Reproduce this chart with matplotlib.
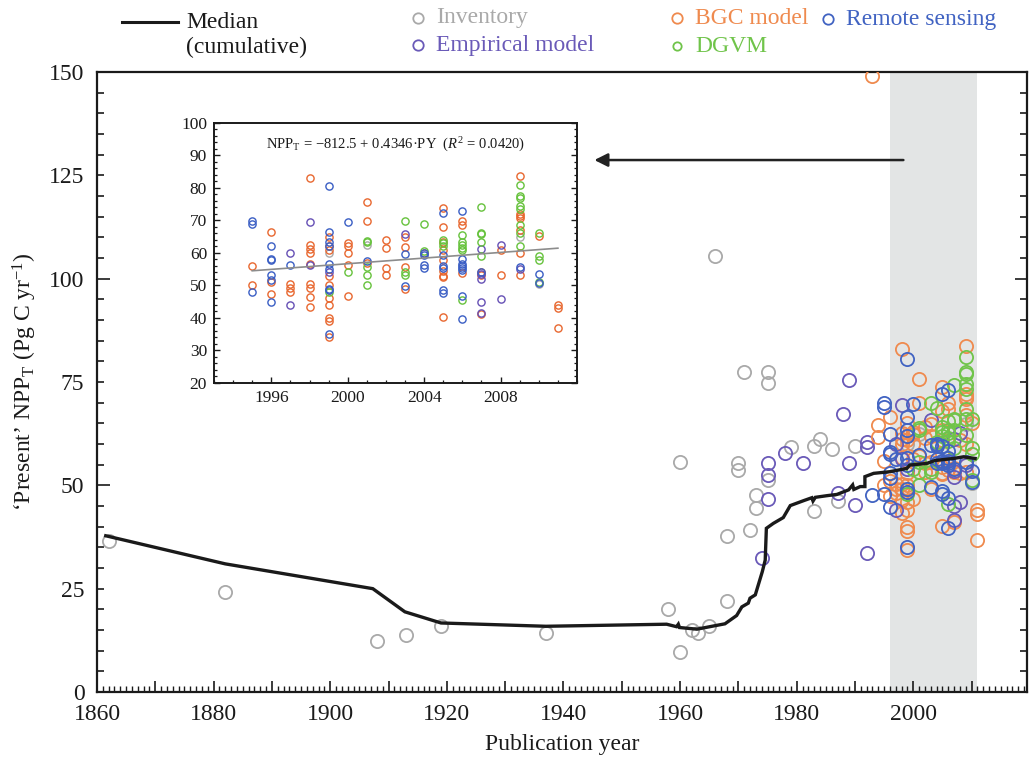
import matplotlib
matplotlib.use("Agg")
import matplotlib.pyplot as plt
from matplotlib.ticker import MultipleLocator, FuncFormatter, FixedLocator
from matplotlib.lines import Line2D
import numpy as np

plt.rcParams['font.family'] = ['Liberation Serif', 'DejaVu Serif']
plt.rcParams['mathtext.fontset'] = 'custom'
plt.rcParams['mathtext.rm'] = 'Liberation Serif'
plt.rcParams['mathtext.it'] = 'Liberation Serif:italic'
plt.rcParams['mathtext.bf'] = 'Liberation Serif:bold'

# ---------------- data (1995-2011, shown in inset and main panel) ----------------
bgc_years = [1995, 1995,
             1996, 1996, 1996,
             1997, 1997, 1997,
             1998, 1998, 1998, 1998, 1998, 1998, 1998, 1998, 1998,
             1999, 1999, 1999, 1999, 1999, 1999, 1999, 1999, 1999, 1999,
             2000, 2000, 2000, 2000, 2000,
             2001, 2001, 2001,
             2002, 2002, 2002, 2002,
             2003, 2003, 2003, 2003,
             2004,
             2005, 2005, 2005, 2005, 2005, 2005, 2005, 2005, 2005,
             2006, 2006, 2006,
             2007, 2007, 2007,
             2008, 2008,
             2009, 2009, 2009, 2009, 2009, 2009, 2009,
             2010,
             2011, 2011, 2011]
bgc_vals = [56, 50,
            66.5, 51, 47.4,
            50.4, 49.2, 48.1,
            83, 62.6, 61.2, 60, 56.6, 50.4, 49.2, 46.4, 43.3,
            65, 62, 61, 53, 50, 46, 44, 40, 39, 34.3,
            63, 62.3, 60, 56.3, 46.8,
            75.8, 69.8, 57,
            64.1, 61.5, 55.4, 53.3,
            64.9, 61.9, 55.6, 49,
            60,
            73.7, 68, 63.5, 61, 57.9, 54.5, 53, 52.7, 40.2,
            69.8, 68.5, 53.8,
            54.3, 53.2, 41.1,
            61, 53.1,
            83.7, 72.1, 71.3, 70.8, 67, 60, 53.2,
            65.2,
            44, 43, 36.8]

emp_years = [1997, 1997, 1998, 1998, 1999, 2003,
             2007, 2007, 2007, 2007, 2007, 2008, 2008, 2009]
emp_vals = [60, 44, 69.4, 56.3, 54, 65.7,
            61.2, 53.5, 52, 45, 41.5, 62.6, 45.9, 55]

dgvm_years = [1999, 2000,
              2001, 2001, 2001, 2001, 2001,
              2003, 2003, 2003,
              2004, 2004,
              2005, 2005, 2005,
              2006, 2006, 2006, 2006, 2006, 2006,
              2007, 2007, 2007, 2007, 2007,
              2009, 2009, 2009, 2009, 2009, 2009, 2009, 2009,
              2010, 2010, 2010, 2010]
dgvm_vals = [48, 54,
             63.8, 63.3, 55.6, 53.3, 50.2,
             69.8, 54, 53.3,
             68.8, 60.5,
             64.1, 63, 62,
             65.5, 63.3, 62.6, 61.5, 60.8, 45.6,
             74.2, 66, 65.8, 63.4, 59,
             81, 77.5, 76.9, 74.4, 73.4, 68.5, 66, 62.1,
             66, 59, 57.7, 51.2]

rs_years = [1995, 1995, 1995,
            1996, 1996, 1996, 1996, 1996, 1996,
            1997,
            1999, 1999, 1999, 1999, 1999, 1999, 1999, 1999, 1999,
            2000, 2001,
            2003, 2003,
            2004, 2004, 2004, 2004,
            2005, 2005, 2005, 2005, 2005, 2005,
            2006, 2006, 2006, 2006, 2006, 2006, 2006, 2006,
            2007, 2009, 2010, 2010]
rs_vals = [69.8, 69, 48,
           62.3, 58.1, 57.7, 53.1, 51.8, 44.8,
           56.3,
           80.5, 66.5, 63.5, 62, 56.5, 55, 49, 48.5, 35,
           69.6, 57.4,
           59.7, 49.7,
           60, 59.5, 56.4, 55.4,
           72.2, 59.5, 55.9, 55.5, 48.7, 47.8,
           73, 58.2, 56.6, 56, 55.5, 54.8, 46.9, 39.6,
           54, 55.7, 53.5, 50.8]

inv_years = [1999, 2001, 2009, 2010]
inv_vals = [60, 62.5, 64.8, 50.5]

# ---------------- earlier publications (main panel only) ----------------
inv_early_years = [1862, 1882, 1908, 1913, 1919, 1937, 1958, 1960, 1960, 1962, 1963,
                   1965, 1966, 1968, 1968, 1970, 1970, 1971, 1972, 1973, 1973,
                   1975, 1975, 1975, 1979, 1983, 1983, 1984, 1986, 1987, 1990]
inv_early_vals = [36.5, 24.2, 12.3, 13.7, 16, 14.3, 20.2, 55.6, 9.6, 15, 14.2,
                  16, 105.5, 37.7, 22, 55.5, 53.7, 77.3, 39.3, 47.7, 44.6,
                  77.3, 74.8, 51.3, 59.2, 59.5, 43.9, 61.3, 58.9, 46.2, 59.5]

emp_early_years = [1974, 1975, 1975, 1975, 1978, 1981, 1987, 1988, 1989, 1989,
                   1990, 1992, 1992, 1992]
emp_early_vals = [32.3, 55.3, 52.6, 46.7, 57.9, 55.3, 48.1, 67.2, 75.5, 55.3,
                  45.2, 60.6, 59.3, 33.6]

bgc_early_years = [1993, 1994, 1994]
bgc_early_vals = [149, 64.5, 61.8]

rs_early_years = [1993]
rs_early_vals = [47.7]

# ---------------- cumulative median ----------------
med_years = [1861.5, 1882, 1907.3, 1912.8, 1919, 1937, 1957.7, 1959.4, 1959.7, 1959.9,
             1962.9, 1965.1, 1967.7, 1969.7, 1970.6, 1971.7, 1972.0, 1972.9, 1974.1,
             1974.6, 1974.8, 1976.0, 1977.7, 1978.9, 1981.2, 1982.6, 1982.8, 1983.2,
             1985.2, 1986.9, 1988.9, 1989.6, 1989.8, 1990.9, 1991.7, 1991.7, 1993.2,
             1996, 1998.9, 1999.4, 2002.3, 2003.7, 2006.9, 2008.6, 2010.6]
med_vals = [37.8, 31, 25, 19.4, 16.7, 15.9, 16.4, 15.8, 16.4, 15.6,
            15.2, 15.8, 16.5, 18.5, 20.6, 21.5, 22.7, 23.5, 29.1,
            31.9, 39.6, 40.8, 42.2, 45.1, 46.3, 47.0, 46.2, 47.1,
            47.5, 47.8, 48.9, 50.1, 49.0, 49.7, 49.7, 52.1, 52.9,
            53.3, 54.1, 54.9, 55.3, 56.0, 56.5, 56.9, 56.5]

fit_intercept = -812.5
fit_slope = 0.4346
fit_years = [1995, 2011]

inset_xticks = [1996, 2000, 2004, 2008]

# ---------------- styling ----------------
C_INV = '#a9a9a9'
C_EMP = '#6a5ab8'
C_BGC = '#ef8a4e'
C_DGVM = '#70c44a'
C_RS = '#4163c2'
CI_BGC = '#e8672f'
CI_DGVM = '#66c23c'
CI_RS = '#3a5ec4'
CI_EMP = '#6650b5'
C_SHADE = '#e3e5e5'

W, H = 1029, 758
fig = plt.figure(figsize=(W / 100, H / 100), dpi=100)

ax = fig.add_axes([97 / W, 1 - 692 / H, 930 / W, 620 / H])
ax.set_xlim(1860, 2019.5)
ax.set_ylim(0, 150)
ax.axvspan(1996, 2011, color=C_SHADE, zorder=0, lw=0)

mk = dict(ls='none', marker='o', mfc='none', ms=9.5, mew=1.3)
ax.plot(inv_early_years, inv_early_vals, mec=C_INV, zorder=2, **mk)
ax.plot(inv_years, inv_vals, mec=C_INV, zorder=2, **mk)
ax.plot(emp_early_years, emp_early_vals, mec=C_EMP, zorder=3, **mk)
ax.plot(bgc_early_years, bgc_early_vals, mec=C_BGC, zorder=3, **mk)
ax.plot(bgc_years, bgc_vals, mec=C_BGC, zorder=3, **mk)
ax.plot(emp_years, emp_vals, mec=C_EMP, zorder=3, **mk)
ax.plot(dgvm_years, dgvm_vals, mec=C_DGVM, zorder=4, **mk)
ax.plot(rs_early_years, rs_early_vals, mec=C_RS, zorder=4, **mk)
ax.plot(rs_years, rs_vals, mec=C_RS, zorder=4, **mk)
ax.plot(med_years, med_vals, color='#1a1a1a', lw=2.4, zorder=6, solid_joinstyle='miter')

ax.annotate("", xy=(1945.3, 128.7), xytext=(1998.3, 128.7),
            arrowprops=dict(arrowstyle='-|>', color='#222222', lw=1.8,
                            mutation_scale=20, shrinkA=0, shrinkB=0),
            zorder=7)

ax.xaxis.set_major_locator(MultipleLocator(10))
ax.xaxis.set_minor_locator(MultipleLocator(1))
ax.xaxis.set_major_formatter(FuncFormatter(lambda v, p: f"{int(round(v))}" if round(v) % 20 == 0 else ""))
ax.yaxis.set_major_locator(MultipleLocator(50))
ax.yaxis.set_minor_locator(MultipleLocator(5))
ax.yaxis.set_major_formatter(FuncFormatter(lambda v, p: f"{int(round(v))}"))
ax.yaxis.set_minor_formatter(FuncFormatter(lambda v, p: f"{int(round(v))}" if round(v) % 25 == 0 else ""))
ax.tick_params(axis='both', which='both', direction='in', colors='#1a1a1a',
               labelsize=17, labelcolor='#1a1a1a')
ax.tick_params(axis='x', which='major', length=8, width=1.2, pad=9)
ax.tick_params(axis='x', which='minor', length=4, width=1.0)
ax.tick_params(axis='y', which='major', length=9, width=1.2, pad=9, right=True)
ax.tick_params(axis='y', which='minor', length=5, width=1.2, pad=9, right=True)
for s in ax.spines.values():
    s.set_linewidth(1.6)
    s.set_color('#1a1a1a')

ax.set_xlabel("Publication year", fontsize=17, color='#1a1a1a')
ax.xaxis.set_label_coords(0.5, -0.068)
ax.set_ylabel(r"‘Present’ NPP$_\mathrm{T}$ (Pg C yr$^{-1}$)", fontsize=17, color='#1a1a1a')
ax.yaxis.set_label_coords(-0.062, 0.5)

# ---------------- inset ----------------
axi = fig.add_axes([214 / W, 1 - 383 / H, 363 / W, 260 / H])
axi.set_xlim(1993, 2012)
axi.set_ylim(20, 100)
mki = dict(ls='none', marker='o', mfc='none', ms=5.2, mew=1.0)
axi.plot(inv_years, inv_vals, mec=C_INV, **mki)
axi.plot(bgc_years, bgc_vals, mec=CI_BGC, **mki)
axi.plot(emp_years, emp_vals, mec=CI_EMP, **mki)
axi.plot(dgvm_years, dgvm_vals, mec=CI_DGVM, **mki)
axi.plot(rs_years, rs_vals, mec=CI_RS, **mki)
fy = np.array(fit_years, dtype=float)
axi.plot(fy, fit_intercept + fit_slope * fy, color='#8c8c8c', lw=1.2, zorder=5)
axi.text(0.5, 0.915,
         r"NPP$_\mathrm{T}$ = −812.5 + 0.4346·PY  ($R^2$ = 0.0420)",
         transform=axi.transAxes, ha='center', va='center', fontsize=10.5,
         color='#1a1a1a')
axi.xaxis.set_major_locator(FixedLocator(inset_xticks))
axi.xaxis.set_minor_locator(MultipleLocator(1))
axi.yaxis.set_major_locator(MultipleLocator(10))
axi.yaxis.set_minor_locator(MultipleLocator(2))
axi.tick_params(axis='both', which='both', direction='in', labelsize=12.5,
                colors='#1a1a1a', right=True)
axi.tick_params(axis='both', which='major', length=4, width=1.0, pad=5)
axi.tick_params(axis='both', which='minor', length=2.5, width=0.9)
for s in axi.spines.values():
    s.set_linewidth(1.4)
    s.set_color('#1a1a1a')

# ---------------- legend (figure coordinates) ----------------
def fx(x):
    return x / W

def fyy(y):
    return 1 - y / H

fig.add_artist(Line2D([fx(122), fx(178)], [fyy(22), fyy(22)], color='#1a1a1a',
                      lw=2.2, transform=fig.transFigure))
fig.text(fx(186), fyy(22), "Median", fontsize=17, va='center', ha='left', color='#1a1a1a')
fig.text(fx(186), fyy(47), "(cumulative)", fontsize=17, va='center', ha='left', color='#1a1a1a')

leg_items = [
    (418, 18, C_INV, "Inventory", 7.5),
    (418, 45, C_EMP, "Empirical model", 7.5),
    (677, 18, C_BGC, "BGC model", 7.5),
    (677, 46, C_DGVM, "DGVM", 6.0),
    (828, 19, C_RS, "Remote sensing", 7.5),
]
for x, y, c, lab, ms in leg_items:
    fig.add_artist(Line2D([fx(x)], [fyy(y)], marker='o', mfc='none', mec=c, ms=ms,
                          mew=1.3, ls='none', transform=fig.transFigure))
    fig.text(fx(x + 18), fyy(y), lab, fontsize=17, va='center', ha='left', color=c)

fig.savefig("out.png", dpi=100)
